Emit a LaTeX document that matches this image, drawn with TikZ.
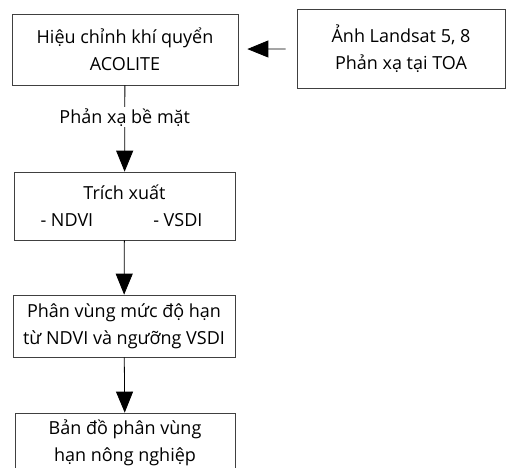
\documentclass[tikz,border=0pt]{standalone}
\usepackage{fontspec}
\setmainfont{Open Sans}
\usetikzlibrary{positioning,arrows.meta}
\tikzset{>={Triangle[length=21pt,width=17pt]}}
\tikzset{box/.style={draw=black!75,line width=0.7pt,align=center,inner sep=2pt,font=\fontsize{18}{27}\selectfont},
         lbl/.style={fill=white,inner sep=1pt,font=\fontsize{18}{20}\selectfont}}

\begin{document}
\begin{tikzpicture}[x=1pt,y=-1pt,line width=0.8pt]
    \useasboundingbox (0,0) rectangle (506,468);
    \node[box,minimum width=226pt,minimum height=71pt] (hc) at (125,49.5) {Hiệu chỉnh khí quyển\\ACOLITE};
    \node[box,minimum width=208pt,minimum height=79pt] (anh) at (401,48.5) {Ảnh Landsat 5, 8\\Phản xạ tại TOA};
    \node[box,minimum width=221pt,minimum height=68pt] (tx) at (124.5,206) {Trích xuất\\- NDVI\hspace{60pt}- VSDI\hspace*{6pt}};
    \node[box,minimum width=222pt,minimum height=62pt] (pv) at (124,326) {Phân vùng mức độ hạn\\từ NDVI và ngưỡng VSDI};
    \node[box,minimum width=220pt,minimum height=60pt] (bd) at (125,443) {Bản đồ phân vùng\\hạn nông nghiệp};
    \path[->] (anh) edge[shorten <=11pt,shorten >=9pt] (hc)
              (hc) edge node[lbl,pos=0.37] {Phản xạ bề mặt} (tx)
              (tx) edge (pv)
              (pv) edge (bd);
\end{tikzpicture}
\end{document}
